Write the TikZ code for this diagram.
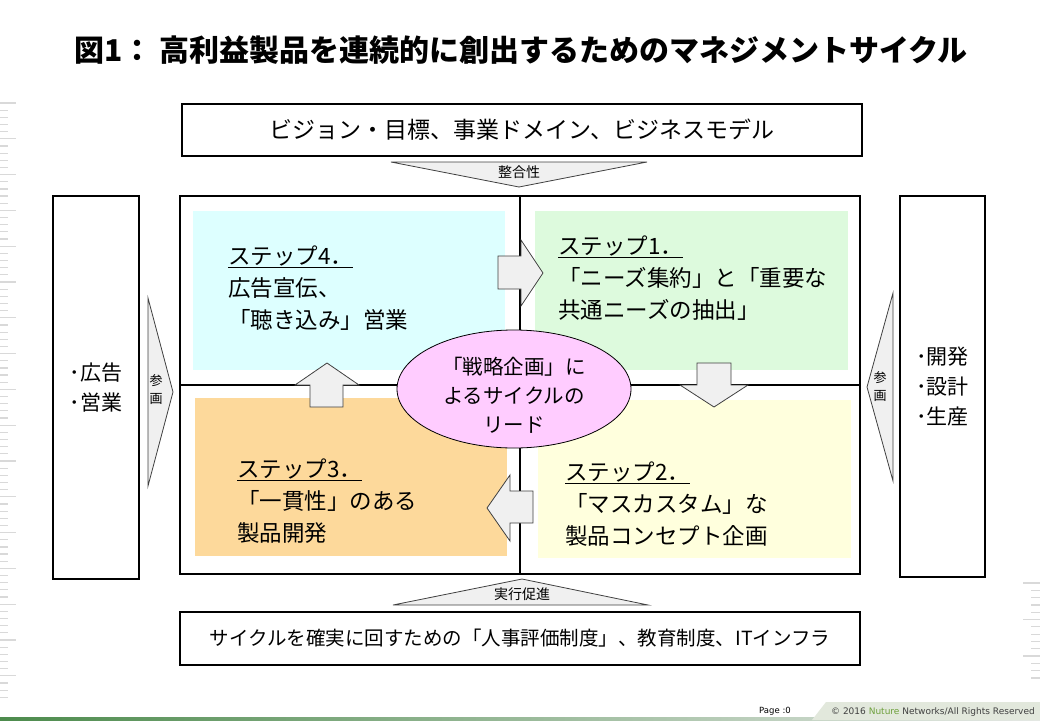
\documentclass[tikz,border=0pt]{standalone}
\usepackage{fontspec}
\setmainfont{Noto Sans CJK JP}
\newfontfamily\footfont{DejaVu Sans}
\usetikzlibrary{shapes.geometric}

\definecolor{quadcyan}{RGB}{221,255,255}
\definecolor{quadgreen}{RGB}{221,250,221}
\definecolor{quadorange}{RGB}{253,217,155}
\definecolor{quadyellow}{RGB}{255,255,221}
\definecolor{leadpink}{RGB}{255,204,255}
\definecolor{arrowgrey}{RGB}{240,240,240}
\definecolor{footband}{RGB}{226,232,220}
\definecolor{nuturegreen}{RGB}{110,160,60}

\begin{document}
\begin{tikzpicture}[x=1pt,y=-1pt,
    box/.style={draw,line width=1.2pt},
    blockarrow/.style={draw=black!75,fill=arrowgrey,line width=0.8pt},
    steptext/.style={anchor=west,inner sep=0pt,align=left,font=\fontsize{22.5}{32}\selectfont},
    sidetext/.style={inner sep=0pt,align=left,font=\fontsize{21}{30}\selectfont},
    smalltext/.style={inner sep=0pt,font=\fontsize{14}{15}\selectfont},
    plantext/.style={inner sep=0pt,align=center,font=\fontsize{13}{18}\selectfont},
    tick/.style={draw=black!15,line width=1.2pt}]

    \useasboundingbox (0,0) rectangle (1040,720);

    % --- Coordinates ---
    % Main frame corners and the cross lines
    \coordinate (NW) at (180,196);
    \coordinate (SE) at (860,574);
    \coordinate (N) at (520,196);
    \coordinate (S) at (520,574);
    \coordinate (W) at (180,385);
    \coordinate (E) at (860,385);

    % --- Ruler ticks at the page edges ---
    \foreach \i in {0,...,83}{
        \pgfmathsetmacro{\len}{ifthenelse(mod(\i,5)==0,16,8)}
        \draw[tick] (0,103+7.16*\i) -- ++(\len,0);
    }
    \foreach \i in {0,...,13}{
        \pgfmathsetmacro{\len}{ifthenelse(mod(\i,5)==0,17,9)}
        \draw[tick] (1040,583+7.3*\i) -- ++(-\len,0);
    }

    % --- Title ---
    \node[font=\fontsize{30}{36}\selectfont\bfseries] (title) at (521,50)
        {図1： 高利益製品を連続的に創出するためのマネジメントサイクル};

    % --- Top and bottom boxes ---
    \node[box,minimum width=680,minimum height=52,font=\fontsize{23}{26}\selectfont] (vision) at (522,130)
        {ビジョン・目標、事業ドメイン、ビジネスモデル};
    \node[box,minimum width=680,minimum height=53,font=\fontsize{19.5}{22}\selectfont] (infra) at (520,638.5)
        {サイクルを確実に回すための「人事評価制度」、教育制度、ITインフラ};

    % --- Side boxes ---
    \node[box,sidetext,minimum width=86,minimum height=383] (sales) at (96,387.5) {･広告\\･営業};
    \node[box,sidetext,minimum width=85,minimum height=381] (dev) at (942.5,386.5) {･開発\\･設計\\･生産};

    % --- Quadrant fills ---
    \fill[quadcyan] (193,211) rectangle (505,370);
    \fill[quadgreen] (535,211) rectangle (848,370);
    \fill[quadorange] (195,398) rectangle (507,556);
    \fill[quadyellow] (538,400) rectangle (851,558);

    % --- Main frame and cross ---
    \draw[box] (NW) rectangle (SE);
    \draw[box] (N) -- (S);
    \draw[box] (W) -- (E);

    % --- Alignment and execution triangles ---
    \draw[blockarrow] (391,162) -- (647,162) -- (519,187) -- cycle;
    \node[smalltext] (align) at (519,172) {整合性};
    \draw[blockarrow] (393,605) -- (648,605) -- (522,579) -- cycle;
    \node[smalltext] (exec) at (522,594) {実行促進};

    % --- Side triangles ---
    \draw[blockarrow] (148,298) -- (173,392) -- (148,486) -- cycle;
    \node[plantext] (planl) at (156,390) {参\\画};
    \draw[blockarrow] (893,293) -- (867,387) -- (893,481) -- cycle;
    \node[plantext] (planr) at (880,387) {参\\画};

    % --- Cycle arrows ---
    % step 4 -> step 1 (right)
    \draw[blockarrow] (498,256) -- (521,256) -- (521,240) -- (543,273)
        -- (521,306) -- (521,289) -- (498,289) -- cycle;
    % step 1 -> step 2 (down)
    \draw[blockarrow] (697,363) -- (731,363) -- (731,385) -- (748,385)
        -- (714,407) -- (680,385) -- (697,385) -- cycle;
    % step 2 -> step 3 (left)
    \draw[blockarrow] (533,491) -- (510,491) -- (510,475) -- (487,508)
        -- (510,541) -- (510,523) -- (533,523) -- cycle;
    % step 3 -> step 4 (up)
    \draw[blockarrow] (310,407) -- (343,407) -- (343,385) -- (359,385)
        -- (327,363) -- (295,385) -- (310,385) -- cycle;

    % --- Lead ellipse ---
    \node[draw,ellipse,fill=leadpink,line width=0.8pt,minimum width=234,minimum height=118] (lead) at (514,389) {};
    \node[align=center,inner sep=0pt,font=\fontsize{20.5}{29}\selectfont] (leadtext) at (514,395)
        {「戦略企画」に\\よるサイクルの\\リード};

    % --- Step texts ---
    \node[steptext] (step4) at (228,288) {\underline{ステップ4．}\\広告宣伝、\\「聴き込み」営業};
    \node[steptext] (step1) at (558,278) {\underline{ステップ1．}\\「ニーズ集約」と「重要な\\共通ニーズの抽出」};
    \node[steptext] (step3) at (237,501) {\underline{ステップ3．}\\「一貫性」のある\\製品開発};
    \node[steptext] (step2) at (565,504) {\underline{ステップ2．}\\「マスカスタム」な\\製品コンセプト企画};

    % --- Footer ---
    \shade[left color=green!35!black!70, right color=green!10!black!10] (0,717) rectangle (1040,720);
    \fill[footband] (812,720) -- (826,702) -- (1040,702) -- (1040,720) -- cycle;
    \node[inner sep=0pt,font=\footfont\fontsize{8.5}{10}\selectfont] (page) at (775,711) {Page :0};
    \node[anchor=east,inner sep=0pt,text=black!75,font=\footfont\fontsize{9}{10}\selectfont] (copyright) at (1035,712)
        {© 2016 \textcolor{nuturegreen}{Nuture} Networks/All Rights Reserved};

\end{tikzpicture}
\end{document}
